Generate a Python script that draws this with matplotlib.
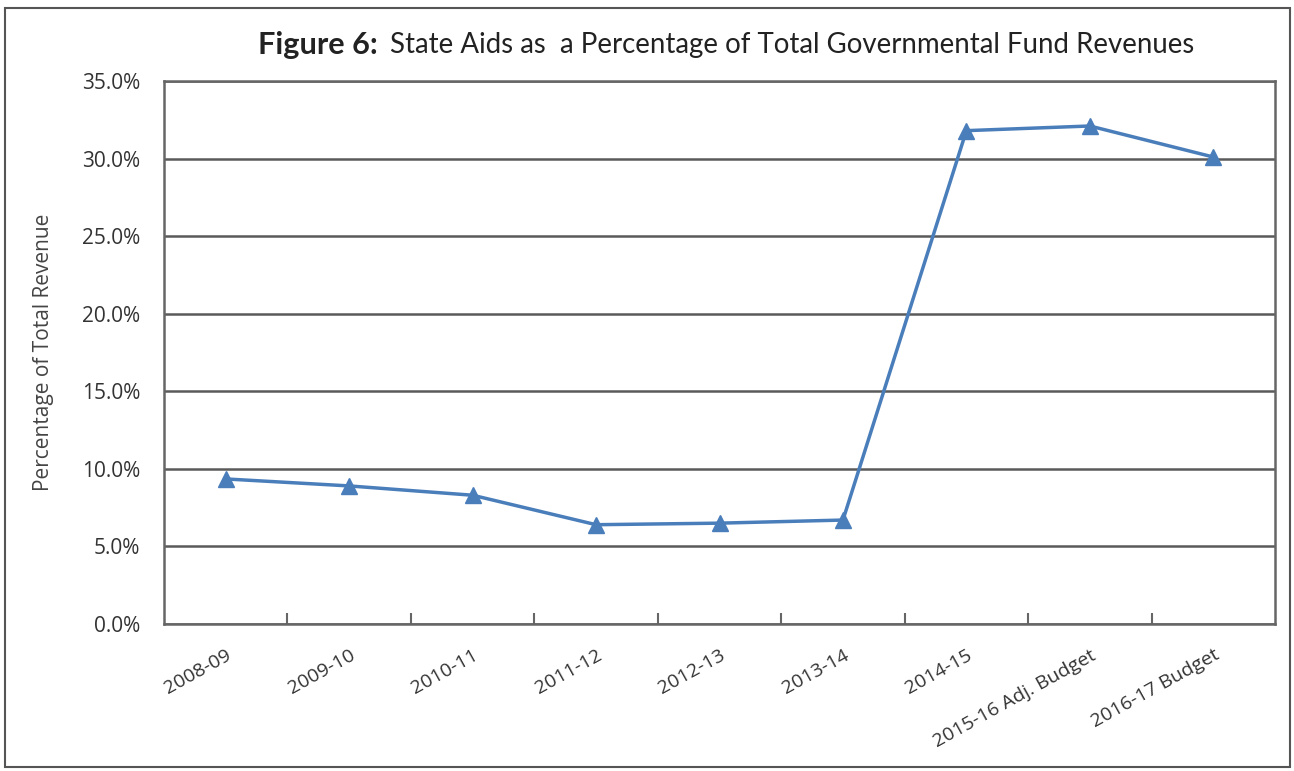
import numpy as np
import matplotlib
matplotlib.use("Agg")
import matplotlib.pyplot as plt
from matplotlib.patches import Rectangle
from matplotlib.ticker import FuncFormatter, FixedLocator

plt.rcParams['font.family'] = ['Open Sans', 'DejaVu Sans']

years = ['2008-09', '2009-10', '2010-11', '2011-12', '2012-13', '2013-14',
         '2014-15', '2015-16 Adj. Budget', '2016-17 Budget']
state_aid_pct = [9.35, 8.9, 8.3, 6.4, 6.5, 6.7, 31.8, 32.1, 30.1]

W, H = 1294, 771
fig = plt.figure(figsize=(W / 100, H / 100), dpi=100, facecolor='white')
# outer chart frame
fig.patches.append(Rectangle((5 / W, 4 / H), 1285 / W, 759 / H, transform=fig.transFigure,
                             fill=False, edgecolor='#555555', linewidth=1.5))

ax = fig.add_axes([164 / W, 1 - 624 / H, (1275 - 164) / W, (624 - 81) / H])
x = np.arange(len(years))
ax.plot(x, state_aid_pct, color='#4A7EBB', linewidth=2.5, marker='^',
        markersize=11, markerfacecolor='#4A7EBB', markeredgecolor='#4A7EBB', zorder=3)

ax.set_xlim(-0.5, len(years) - 0.5)
ax.set_ylim(0, 35)
ax.set_yticks(np.arange(0, 36, 5))
ax.yaxis.set_major_formatter(FuncFormatter(lambda v, p: '%.1f%%' % v))
ax.grid(axis='y', color='#5a5a5a', linewidth=1.8, zorder=1)

# tick marks between categories, labels at the centres
ax.xaxis.set_major_locator(FixedLocator(np.arange(0.5, len(years) - 1, 1.0)))
ax.xaxis.set_major_formatter(FuncFormatter(lambda v, p: ''))
ax.set_xticks(x, minor=True)
ax.set_xticklabels(years, minor=True, rotation=29, ha='right', rotation_mode='anchor',
                   fontsize=14, color='#333333')
ax.tick_params(axis='x', which='major', direction='in', length=8, width=1.5, color='#666666')
ax.tick_params(axis='x', which='minor', length=0, pad=16)
ax.tick_params(axis='y', length=0, labelsize=15, labelcolor='#333333', pad=17)

for s in ax.spines.values():
    s.set_color('#666666')
    s.set_linewidth(1.8)

ax.set_ylabel('Percentage of Total Revenue', fontsize=15, color='#444444', labelpad=20)

# title in two runs: bold label + plain text
t1 = fig.text(258 / W, 1 - 45 / H, 'Figure 6:', fontsize=20, fontweight='bold',
              family=['Lato', 'DejaVu Sans'], ha='left', va='center', color='#222222')
t2 = fig.text(390 / W, 1 - 45 / H, 'State Aids as  a Percentage of Total Governmental Fund Revenues',
              fontsize=20, family=['Lato', 'DejaVu Sans'], ha='left', va='center', color='#222222')
r = fig.canvas.get_renderer()
t1.set_fontsize(20 * 120 / t1.get_window_extent(r).width)
t2.set_fontsize(20 * 805 / t2.get_window_extent(r).width)

fig.savefig('out.png', dpi=100, facecolor='white')
